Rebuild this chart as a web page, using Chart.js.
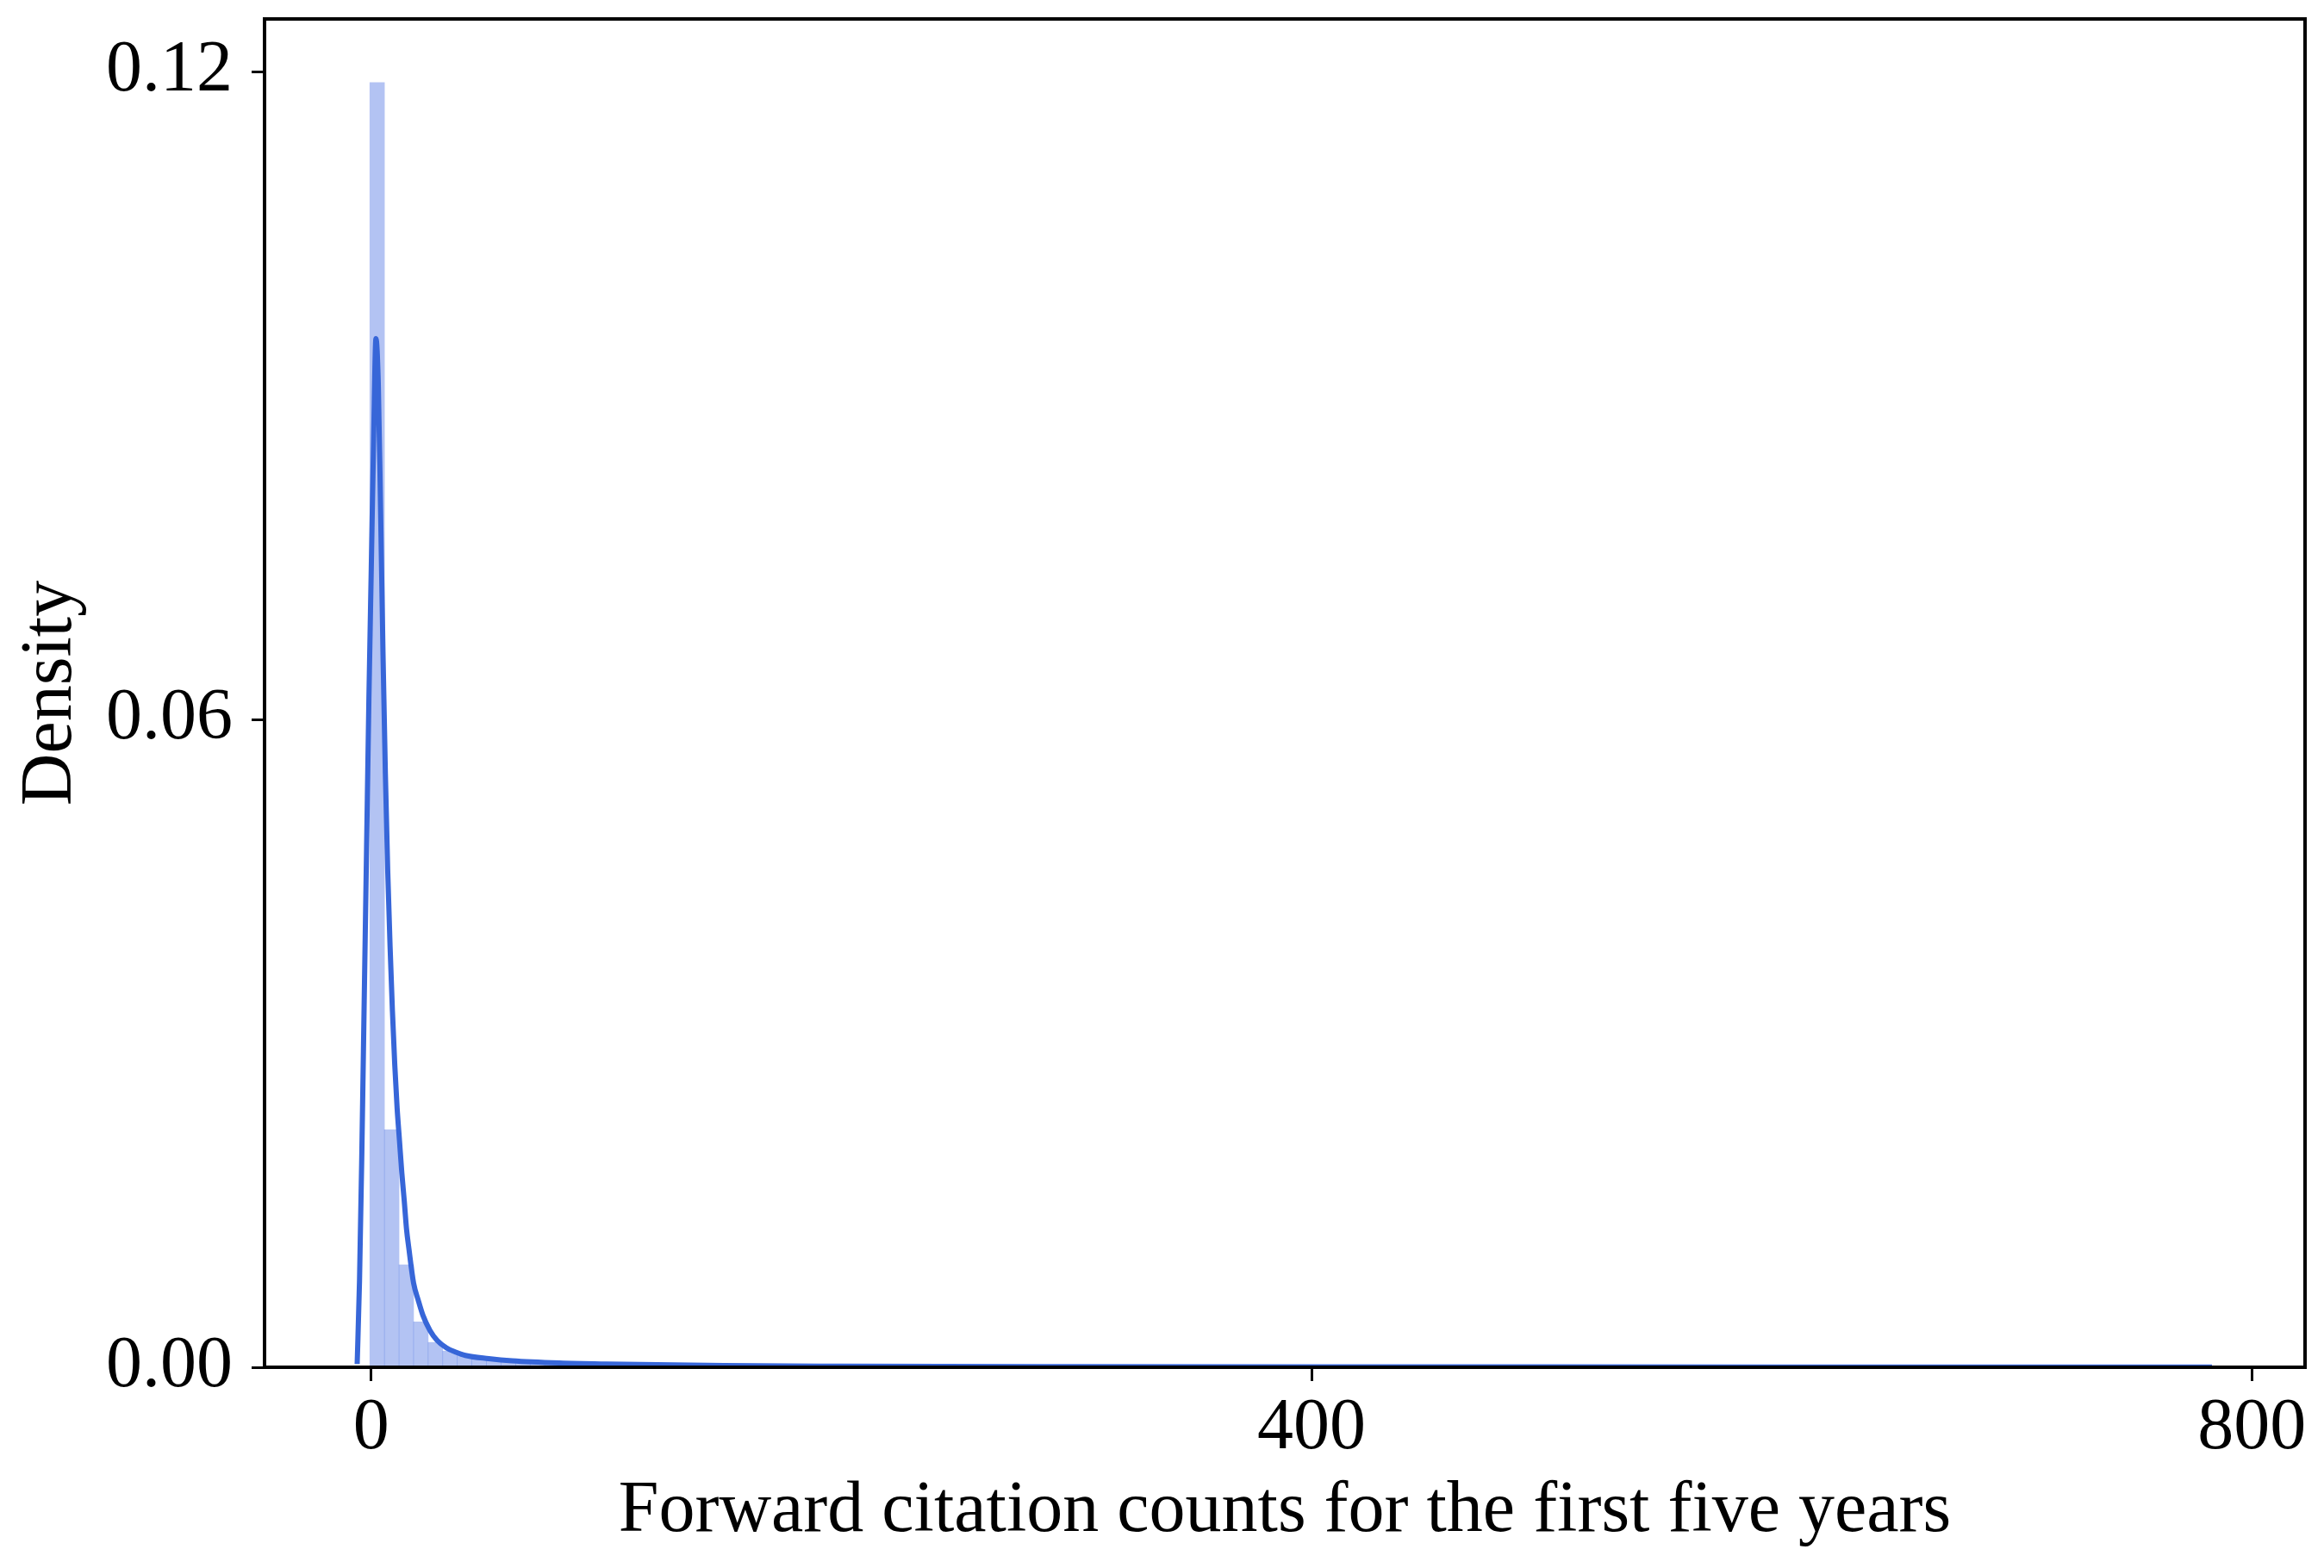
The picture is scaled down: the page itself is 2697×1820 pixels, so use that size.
<!DOCTYPE html>
<html>
<head>
<meta charset="utf-8">
<title>Forward citation density</title>
<script src="https://cdn.jsdelivr.net/npm/chart.js@4.4.1/dist/chart.umd.min.js"></script>
<style>
    body { margin: 0; background: #ffffff; }
    #wrap { width: 2697px; height: 1820px; }
</style>
</head>
<body>
<div id="wrap"><canvas id="myChart" width="2697" height="1820"></canvas></div>
<script>
// Histogram bins (density)
const binCenters = [2.5, 8.7, 14.9, 21.1, 27.3, 33.5, 39.7, 45.9, 52.1, 58.3, 64.5, 70.7, 76.9, 83.1, 89.3, 95.5, 101.7, 107.9, 114.1, 120.3];
const binDensity = [0.119, 0.022, 0.0095, 0.0042, 0.0023, 0.0015, 0.0011, 0.0008, 0.0007, 0.0006, 0.0005, 0.0004, 0.0004, 0.0003, 0.0003, 0.0002, 0.0002, 0.0002, 0.0001, 0.0001];

// KDE curve
const kdeX = [-6, -5, -4, -3, -2, -1, 0, 1, 2, 3, 4, 5, 6, 7, 8, 9, 10, 11, 12, 13, 14, 15, 16, 18, 20, 22, 25, 28, 32, 36, 40, 50, 60, 80, 100, 150, 200, 300, 400, 500, 600, 700, 783];
const kdeY = [0.0003, 0.008, 0.020, 0.034, 0.048, 0.062, 0.074, 0.086, 0.0953, 0.091, 0.079, 0.066, 0.055, 0.046, 0.039, 0.033, 0.028, 0.024, 0.021, 0.018, 0.0155, 0.0128, 0.011, 0.0078, 0.0062, 0.0048, 0.0034, 0.0025, 0.0018, 0.0014, 0.0011, 0.0008, 0.0006, 0.0004, 0.0003, 0.00015, 0.0001, 0.00006, 0.00004, 0.00003, 0.00002, 0.00002, 0.00001];

// Axis ticks
const xTicks = [0, 400, 800];
const yTicks = [0, 0.06, 0.12];

const xTitle = 'Forward citation counts for the first five years';
const yTitle = 'Density';

const fontFamily = "'Liberation Serif', 'Times New Roman', serif";
Chart.defaults.font.family = fontFamily;
Chart.defaults.color = '#000000';

// Draw the top and right spines (box around the plot)
const boxPlugin = {
    id: 'boxPlugin',
    afterDraw(chart) {
        const { ctx, chartArea } = chart;
        ctx.save();
        ctx.strokeStyle = '#000000';
        ctx.lineWidth = 4;
        ctx.strokeRect(chartArea.left, chartArea.top, chartArea.right - chartArea.left, chartArea.bottom - chartArea.top);
        ctx.restore();
    }
};

function buildChart() {
    const histData = binCenters.map((x, i) => ({ x: x, y: binDensity[i] }));
    const kdeData = kdeX.map((x, i) => ({ x: x, y: kdeY[i] }));

    const ctx = document.getElementById('myChart').getContext('2d');
    new Chart(ctx, {
        data: {
            datasets: [
                {
                    type: 'line',
                    data: kdeData,
                    borderColor: 'rgb(55, 102, 216)',
                    borderWidth: 6,
                    pointRadius: 0,
                    cubicInterpolationMode: 'monotone',
                    fill: false,
                    order: 0
                },
                {
                    type: 'bar',
                    data: histData,
                    backgroundColor: 'rgba(65, 105, 225, 0.4)',
                    borderWidth: 0,
                    barPercentage: 1.0,
                    categoryPercentage: 1.0,
                    order: 1
                }
            ]
        },
        options: {
            responsive: false,
            animation: false,
            devicePixelRatio: 1,
            layout: { padding: { top: 22, right: 22, left: 0, bottom: 0 } },
            plugins: {
                legend: { display: false },
                tooltip: { enabled: false }
            },
            scales: {
                x: {
                    type: 'linear',
                    offset: false,
                    min: -45.4,
                    max: 822.6,
                    afterBuildTicks: (scale) => { scale.ticks = xTicks.map(v => ({ value: v })); },
                    afterFit: (scale) => {
                        scale.height = 233;
                        scale.paddingLeft = 0;
                        scale.paddingRight = 0;
                    },
                    grid: { display: true, offset: false, drawOnChartArea: false, drawTicks: true, tickLength: 16, tickWidth: 3, tickColor: '#000000' },
                    border: { display: true, color: '#000000', width: 4 },
                    ticks: {
                        font: { size: 84 },
                        padding: 6,
                        maxRotation: 0,
                        callback: (v) => String(v)
                    },
                    title: {
                        display: true,
                        text: xTitle,
                        font: { size: 84 },
                        padding: { top: 0, bottom: 15 }
                    }
                },
                y: {
                    type: 'linear',
                    min: 0,
                    max: 0.1249,
                    afterBuildTicks: (scale) => { scale.ticks = yTicks.map(v => ({ value: v })); },
                    afterFit: (scale) => {
                        scale.width = 307;
                        scale.paddingTop = 0;
                        scale.paddingBottom = 0;
                    },
                    grid: { display: true, drawOnChartArea: false, drawTicks: true, tickLength: 15, tickWidth: 3, tickColor: '#000000' },
                    border: { display: true, color: '#000000', width: 4 },
                    ticks: {
                        font: { size: 84 },
                        padding: 22,
                        callback: (v) => Number(v).toFixed(2)
                    },
                    title: {
                        display: true,
                        text: yTitle,
                        font: { size: 84 },
                        padding: { top: 10, bottom: 0 }
                    }
                }
            }
        },
        plugins: [boxPlugin]
    });
}

buildChart();
</script>
</body>
</html>
